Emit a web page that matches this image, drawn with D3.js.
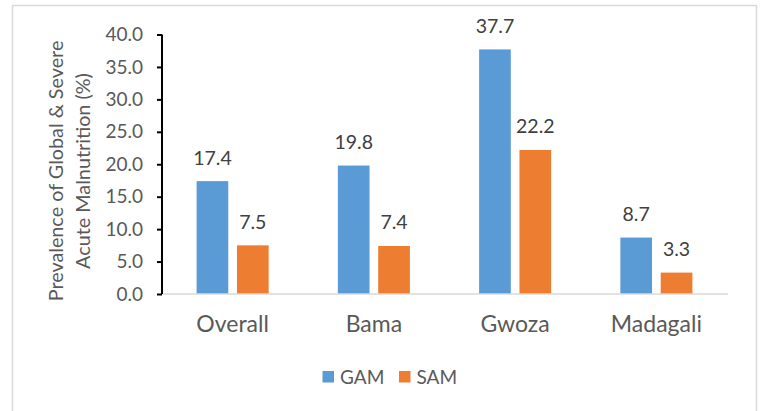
<!DOCTYPE html>
<html>
<head>
<meta charset="utf-8">
<script src="https://cdn.jsdelivr.net/npm/d3@7"></script>
<style>
  html, body { margin: 0; padding: 0; background: #fff; }
  svg { display: block; font-family: Lato, "Open Sans", sans-serif; }
</style>
</head>
<body>
<svg id="chart" width="760" height="411"></svg>
<script>
// data
const categories = ["Overall", "Bama", "Gwoza", "Madagali"];
const seriesNames = ["GAM", "SAM"];
const gamValues = [17.4, 19.8, 37.7, 8.7];
const samValues = [7.5, 7.4, 22.2, 3.3];
const yTicks = [0, 5, 10, 15, 20, 25, 30, 35, 40];
const colors = ["#5B9BD5", "#ED7D31"];

const rows = categories.map((c, i) => ({ cat: c, GAM: gamValues[i], SAM: samValues[i] }));

const svg = d3.select("#chart");
const plot = { left: 162, right: 727, top: 34.5, bottom: 294 };

// outer chart frame
svg.append("rect")
  .attr("x", 12.5).attr("y", 5.5)
  .attr("width", 744).attr("height", 420)
  .attr("fill", "none")
  .attr("stroke", "#d9d9d9")
  .attr("stroke-width", 1.5);

const x0 = d3.scaleBand()
  .domain(categories)
  .range([plot.left, plot.right])
  .padding(0);

const x1 = d3.scaleBand()
  .domain(seriesNames)
  .range([0, x0.bandwidth()])
  .paddingInner(0.215)
  .paddingOuter(0.857);

const y = d3.scaleLinear()
  .domain([0, 40])
  .range([plot.bottom, plot.top]);

const color = d3.scaleOrdinal().domain(seriesNames).range(colors);

// bars
const groups = svg.append("g")
  .selectAll("g")
  .data(rows)
  .enter().append("g")
    .attr("transform", d => "translate(" + x0(d.cat) + ",0)");

groups.selectAll("rect")
  .data(d => seriesNames.map(k => ({ key: k, value: d[k] })))
  .enter().append("rect")
    .attr("x", d => x1(d.key))
    .attr("y", d => y(d.value))
    .attr("width", x1.bandwidth())
    .attr("height", d => y(0) - y(d.value))
    .attr("fill", d => color(d.key));

// data labels
groups.selectAll("text")
  .data(d => seriesNames.map(k => ({ key: k, value: d[k] })))
  .enter().append("text")
    .attr("x", d => x1(d.key) + x1.bandwidth() / 2)
    .attr("y", d => y(d.value) - 16.5)
    .attr("text-anchor", "middle")
    .attr("font-size", 19.5)
    .attr("fill", "#404040")
    .text(d => d.value.toFixed(1));

// x axis (grey baseline, no ticks)
svg.append("line")
  .attr("x1", plot.left).attr("x2", plot.right + 1)
  .attr("y1", y(0)).attr("y2", y(0))
  .attr("stroke", "#d9d9d9")
  .attr("stroke-width", 1.5);

svg.append("g")
  .selectAll("text")
  .data(categories)
  .enter().append("text")
    .attr("x", d => x0(d) + x0.bandwidth() / 2)
    .attr("y", 332)
    .attr("text-anchor", "middle")
    .attr("font-size", 23)
    .attr("fill", "#595959")
    .text(d => d);

// y axis
const yAxis = svg.append("g")
  .attr("transform", "translate(" + plot.left + ",0)")
  .call(d3.axisLeft(y).tickValues(yTicks).tickFormat(d3.format(".1f")).tickSize(5).tickPadding(14));

yAxis.select(".domain")
  .attr("d", "M0," + y(40) + "V" + y(0) + "H0")
  .attr("stroke", "#000")
  .attr("stroke-width", 2);
yAxis.selectAll(".tick line").attr("stroke", "#000").attr("stroke-width", 2);
yAxis.selectAll(".tick text")
  .attr("font-family", "Lato, 'Open Sans', sans-serif")
  .attr("font-size", 19)
  .attr("fill", "#595959");

// y axis title
const title = svg.append("text")
  .attr("transform", "translate(63,171) rotate(-90)")
  .attr("text-anchor", "middle")
  .attr("font-size", 19.8)
  .attr("fill", "#595959");
title.append("tspan").attr("x", 0).attr("dy", 0).text("Prevalence of Global & Severe");
title.append("tspan").attr("x", 0).attr("dy", 27).text("Acute Malnutrition (%)");

// legend
const legendX = [322.5, 399];
const legend = svg.append("g")
  .selectAll("g")
  .data(seriesNames)
  .enter().append("g")
    .attr("transform", (d, i) => "translate(" + legendX[i] + ",371)");

legend.append("rect")
  .attr("width", 11.5).attr("height", 11.5)
  .attr("fill", d => color(d));

legend.append("text")
  .attr("x", 17.5)
  .attr("y", 12.5)
  .attr("font-size", 19)
  .attr("fill", "#595959")
  .text(d => d);
</script>
</body>
</html>
